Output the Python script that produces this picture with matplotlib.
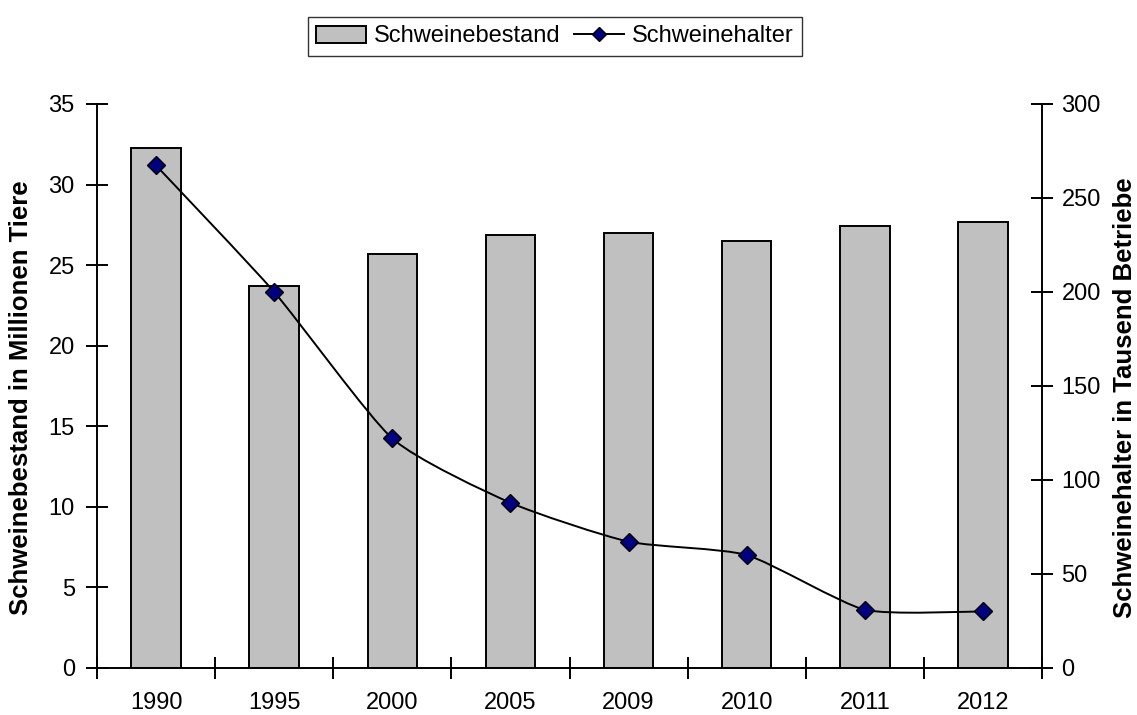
import matplotlib.pyplot as plt
import numpy as np
from matplotlib.path import Path
from matplotlib.patches import PathPatch, Patch
from matplotlib.lines import Line2D

plt.rcParams['font.family'] = ['Liberation Sans', 'DejaVu Sans']

years = ['1990', '1995', '2000', '2005', '2009', '2010', '2011', '2012']
bestand = [32.3, 23.7, 25.7, 26.9, 27.0, 26.5, 27.4, 27.7]      # Mio. Tiere
halter = [267.3, 200.0, 122.1, 87.9, 67.2, 60.1, 31.0, 30.1]     # Tsd. Betriebe


def smooth_path(x, y, k=0.1):
    # bezier through all points, lightly smoothed
    x = np.asarray(x, float)
    y = np.asarray(y, float)
    verts = [(x[0], y[0])]
    codes = [Path.MOVETO]
    n = len(x)
    for i in range(n - 1):
        p0 = np.array([x[max(i - 1, 0)], y[max(i - 1, 0)]])
        p1 = np.array([x[i], y[i]])
        p2 = np.array([x[i + 1], y[i + 1]])
        p3 = np.array([x[min(i + 2, n - 1)], y[min(i + 2, n - 1)]])
        c1 = p1 + (p2 - p0) * k
        c2 = p2 - (p3 - p1) * k
        verts += [tuple(c1), tuple(c2), tuple(p2)]
        codes += [Path.CURVE4] * 3
    return Path(verts, codes)


fig = plt.figure(figsize=(11.37, 7.15), dpi=100)
ax = fig.add_axes([97 / 1137, 47 / 715, 945 / 1137, 564 / 715])
ax2 = ax.twinx()

x = np.arange(len(years))
ax.bar(x, bestand, width=0.42, color='#c0c0c0', edgecolor='black', linewidth=1.4, zorder=2)
ax.set_xlim(-0.5, len(years) - 0.5)
ax.set_ylim(0, 35)
ax.set_yticks(range(0, 36, 5))

ax2.set_ylim(0, 300)
ax2.set_yticks(range(0, 301, 50))
ax2.add_patch(PathPatch(smooth_path(x, halter), fill=False, edgecolor='black', linewidth=1.4, zorder=3))
ax2.plot(x, halter, linestyle='none', marker='D', markersize=9,
         markerfacecolor='#000080', markeredgecolor='black', markeredgewidth=1.0, zorder=4)

# year labels centred on categories, tick marks on category boundaries
ax.set_xticks(x)
ax.set_xticklabels(years)
ax.set_xticks(np.arange(-0.5, len(years)), minor=True)
ax.tick_params(axis='x', which='major', length=0, pad=17, labelsize=17)
ax.tick_params(axis='x', which='minor', direction='inout', length=16, width=1.4)
ax.tick_params(axis='y', direction='inout', length=16, width=1.4, labelsize=17, pad=8)
ax2.tick_params(axis='y', direction='inout', length=16, width=1.4, labelsize=17, pad=6)

for a in (ax, ax2):
    a.spines['top'].set_visible(False)
    for s in ('left', 'right', 'bottom'):
        a.spines[s].set_linewidth(1.4)
ax.spines['right'].set_visible(False)
ax2.spines['left'].set_visible(False)
ax2.spines['bottom'].set_visible(False)

ax.set_ylabel('Schweinebestand in Millionen Tiere', fontsize=18.5, fontweight='bold')
ax2.set_ylabel('Schweinehalter in Tausend Betriebe', fontsize=18.5, fontweight='bold')
ax.yaxis.set_label_coords(-0.068, 0.48)
ax2.yaxis.set_label_coords(1.075, 0.48)

handles = [Patch(facecolor='#c0c0c0', edgecolor='black', linewidth=1.4),
           Line2D([], [], color='black', linewidth=1.4, marker='D', markersize=7,
                  markerfacecolor='#000080', markeredgecolor='black')]
leg = fig.legend(handles, ['Schweinebestand', 'Schweinehalter'], loc='center',
                 bbox_to_anchor=(555 / 1137, 1 - 36.5 / 715), ncol=2, fontsize=17,
                 frameon=True, fancybox=False, edgecolor='black', handlelength=2.1,
                 handletextpad=0.35, columnspacing=0.55, borderpad=0.35)
leg.get_frame().set_linewidth(1.0)

fig.savefig('out.png', dpi=100)
